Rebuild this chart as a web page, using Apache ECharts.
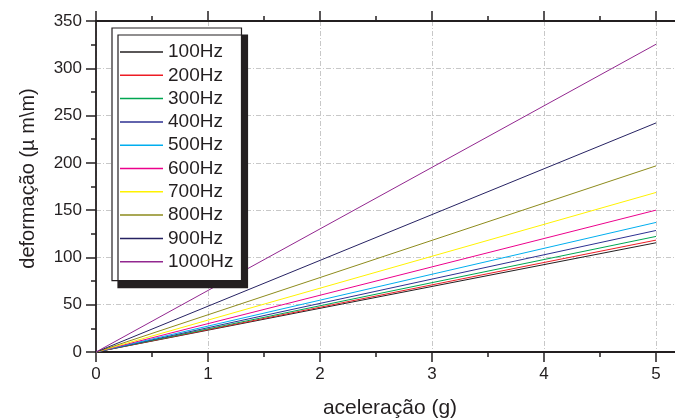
<!DOCTYPE html>
<html>
<head>
<meta charset="utf-8">
<script src="https://cdn.jsdelivr.net/npm/echarts@6/dist/echarts.min.js"></script>
<style>
  html, body { margin: 0; padding: 0; background: #fff; }
  /* the plot runs on past the right edge of the picture, up to 5.5 g */
  #wrap { width: 675px; height: 419px; overflow: hidden; position: relative; }
  #chart { width: 712px; height: 419px; position: absolute; left: 0; top: 0; }
</style>
</head>
<body>
<div id="wrap"><div id="chart"></div></div>
<script>
// frequencies in the legend, and deformation read at 0 g and 5 g
var frequencies = ['100Hz', '200Hz', '300Hz', '400Hz', '500Hz', '600Hz', '700Hz', '800Hz', '900Hz', '1000Hz'];
var acceleration = [0, 5];
var deformation = [
    [0, 115.5],
    [0, 118.3],
    [0, 122.2],
    [0, 128.5],
    [0, 137.0],
    [0, 150.0],
    [0, 168.7],
    [0, 196.8],
    [0, 242.2],
    [0, 325.4]
];
var colors = ['#231f20', '#ed1c24', '#00a651', '#2e3192', '#00aeef', '#ec008c', '#fff200', '#8d8b1c', '#262262', '#92278f'];

var font = 'Liberation Sans, Arial, sans-serif';
var ink = '#231f20';

var chart = echarts.init(document.getElementById('chart'));

var series = frequencies.map(function (name, i) {
    return {
        name: name,
        type: 'line',
        symbol: 'none',
        animation: false,
        data: acceleration.map(function (g, j) {
            return [g, deformation[i][j]];
        }),
        lineStyle: { color: colors[i], width: 1 },
        itemStyle: { color: colors[i] }
    };
});

var gridLine = { show: true, lineStyle: { color: '#c8c8c8', width: 1, type: [5, 2, 1, 2] } };
var tick = { show: true, length: 10, lineStyle: { color: ink, width: 1.5 } };
var minor = { show: true, splitNumber: 2, length: 5, lineStyle: { color: ink, width: 1.5 } };

chart.setOption({
    backgroundColor: '#fff',
    animation: false,
    grid: { left: 96, right: 0, top: 21, bottom: 67, containLabel: false, outerBoundsMode: 'none' },
    legend: {
        orient: 'vertical',
        left: 112,
        top: 28,
        padding: [14, 8, 9, 8],
        icon: 'rect',
        itemWidth: 43,
        itemHeight: 1.5,
        itemGap: 3.3,
        backgroundColor: '#fff',
        borderColor: ink,
        borderWidth: 1.2,
        shadowColor: ink,
        shadowBlur: 0,
        shadowOffsetX: 6,
        shadowOffsetY: 7,
        textStyle: { fontFamily: font, fontSize: 19, color: ink, lineHeight: 20 },
        data: frequencies
    },
    xAxis: [{
        type: 'value',
        min: 0,
        max: 5.5,
        interval: 1,
        name: 'aceleração (g)',
        nameLocation: 'middle',
        nameGap: 46,
        nameTextStyle: { fontFamily: font, fontSize: 21, color: ink, padding: [0, 28, 0, 0] },
        axisLine: { lineStyle: { color: ink, width: 1.8 } },
        axisTick: tick,
        minorTick: minor,
        axisLabel: { fontFamily: font, fontSize: 17, color: ink, margin: 14 },
        splitLine: gridLine
    }, {
        type: 'value',
        position: 'top',
        min: 0,
        max: 5.5,
        interval: 1,
        axisLine: { show: true, lineStyle: { color: ink, width: 1.8 } },
        axisTick: tick,
        minorTick: minor,
        axisLabel: { show: false },
        splitLine: { show: false }
    }],
    yAxis: {
        type: 'value',
        min: 0,
        max: 350,
        interval: 50,
        name: 'deformação (µ m\\m)',
        nameLocation: 'middle',
        nameGap: 58,
        nameTextStyle: { fontFamily: font, fontSize: 20, color: ink, padding: [0, 0, 0, 16] },
        axisLine: { show: true, lineStyle: { color: ink, width: 1.8 } },
        axisTick: tick,
        minorTick: minor,
        axisLabel: { fontFamily: font, fontSize: 17, color: ink, margin: 14 },
        splitLine: gridLine
    },
    series: series
});
</script>
</body>
</html>
